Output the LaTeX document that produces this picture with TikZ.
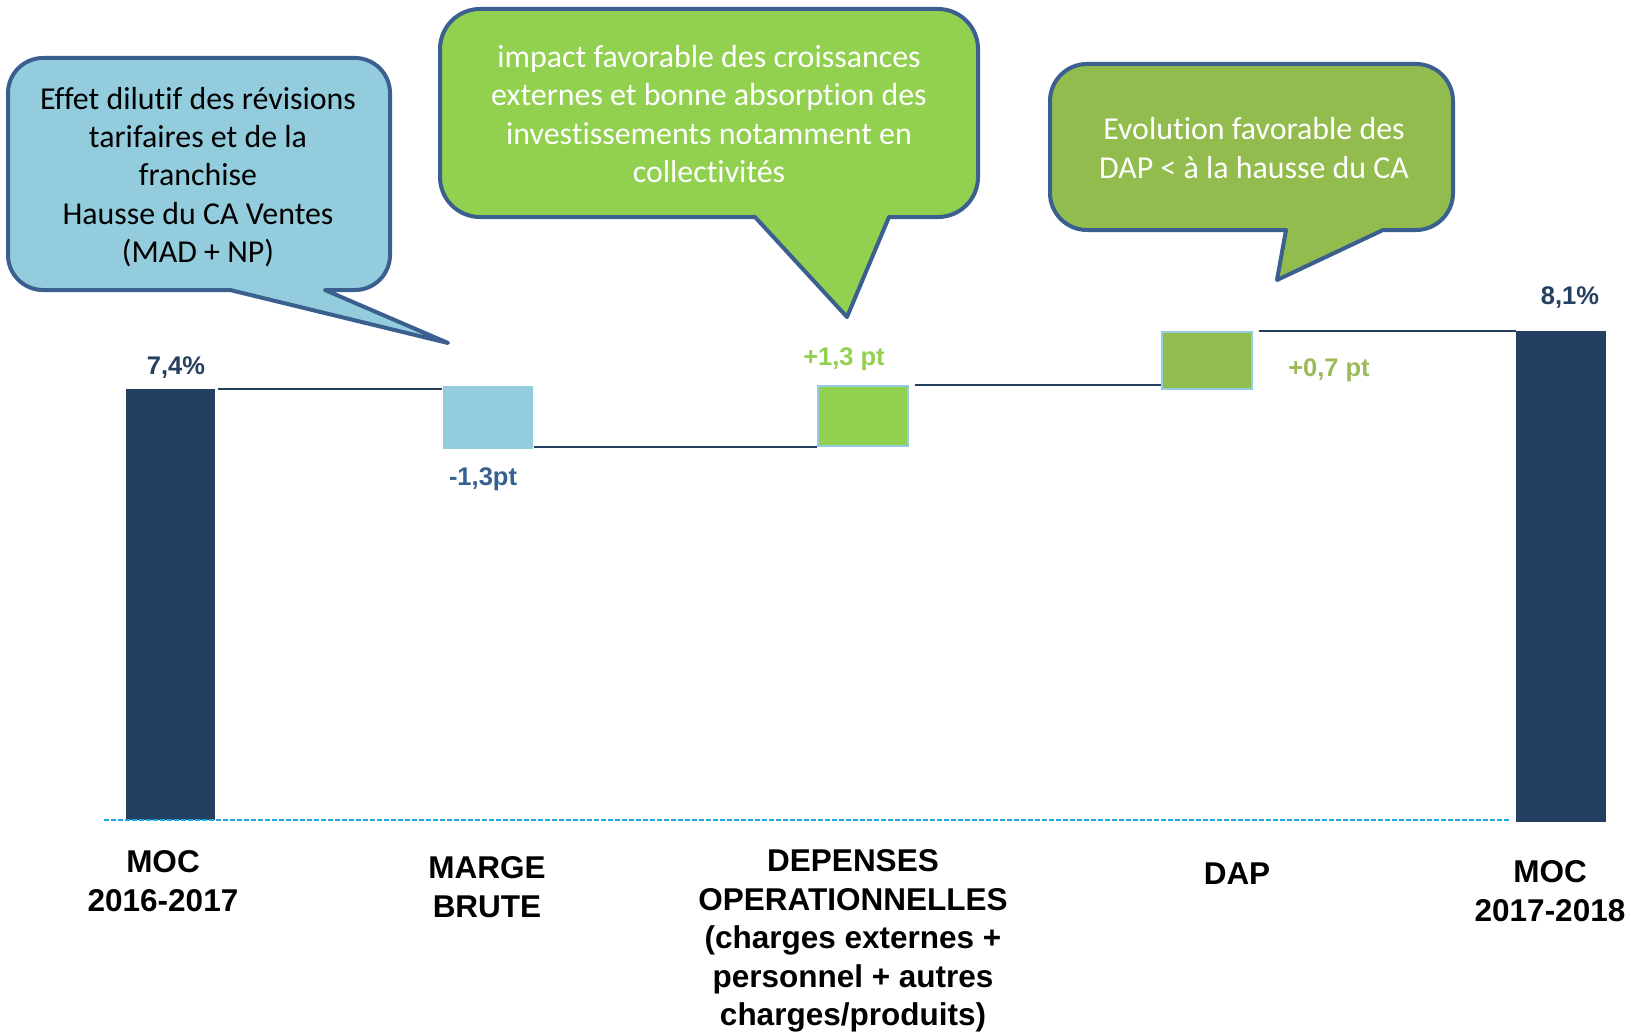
\documentclass[tikz,border=0pt]{standalone}
\usepackage{fontspec}
\setmainfont{Liberation Sans}
\newfontfamily\calfont[Ligatures=NoCommon]{Carlito}
\definecolor{navy}{HTML}{243F60}
\definecolor{midblue}{HTML}{376092}
\definecolor{bordblue}{HTML}{3B5F8E}
\definecolor{skyfill}{HTML}{93CDDD}
\definecolor{limefill}{HTML}{92D050}
\definecolor{olivefill}{HTML}{93BC4E}
\definecolor{valgreen}{HTML}{9BBB59}
\definecolor{dashblue}{HTML}{1EA7E1}
\tikzset{
  barbox/.style={draw=none, inner sep=0pt, anchor=north west},
  navybar/.style={barbox, fill=navy, minimum width=89pt},
  deltabox/.style={barbox, minimum width=90pt, draw=skyfill, line width=1.5pt},
  conn/.style={draw=navy, line width=2pt},
  callout/.style={draw=bordblue, line width=4pt, line join=round},
  calltext/.style={font=\calfont\fontsize{31.9}{38.4}\selectfont, align=center, inner sep=0pt},
  axislab/.style={font=\bfseries\fontsize{31.5}{38.5}\selectfont, align=center, inner sep=0pt},
  vallab/.style={font=\bfseries\fontsize{25.5}{30}\selectfont, inner sep=0pt, anchor=base}
}
\begin{document}
\begin{tikzpicture}[x=1pt,y=-1pt]
\useasboundingbox[fill=white] (0,0) rectangle (1631,1033);

% callout shapes
\path[callout, fill=skyfill] (230,290) -- (43,290) .. controls (23.7,290) and (8,274.3) .. (8,255)
  -- (8,93) .. controls (8,73.7) and (23.7,58) .. (43,58)
  -- (355,58) .. controls (374.3,58) and (390,73.7) .. (390,93)
  -- (390,255) .. controls (390,274.3) and (374.3,290) .. (355,290)
  -- (325,290) -- (448,343) -- cycle;
\path[callout, fill=limefill] (755,217) -- (480,217) .. controls (457.9,217) and (440,199.1) .. (440,177)
  -- (440,49) .. controls (440,26.9) and (457.9,9) .. (480,9)
  -- (938,9) .. controls (960.1,9) and (978,26.9) .. (978,49)
  -- (978,177) .. controls (978,199.1) and (960.1,217) .. (938,217)
  -- (889,217) -- (847,317) -- cycle;
\path[callout, fill=olivefill] (1286,230) -- (1087,230) .. controls (1066.6,230) and (1050,213.4) .. (1050,193)
  -- (1050,101) .. controls (1050,80.6) and (1066.6,64) .. (1087,64)
  -- (1416,64) .. controls (1436.4,64) and (1453,80.6) .. (1453,101)
  -- (1453,193) .. controls (1453,213.4) and (1436.4,230) .. (1416,230)
  -- (1383,230) -- (1277,280) -- cycle;

\node[calltext] (t1) at (198,177) {Effet dilutif des révisions\\tarifaires et de la\\franchise\\Hausse du CA Ventes\\(MAD + NP)};
\node[calltext, text=white] (t2) at (709,114) {impact favorable des croissances\\externes et bonne absorption des\\investissements notamment en\\collectivités};
\node[calltext, text=white] (t3) at (1254,148) {Evolution favorable des\\DAP < à la hausse du CA};

% bars
\node[navybar, minimum height=431pt] (b1) at (126,389) {};
\node[deltabox, draw=none, fill=skyfill, minimum height=63pt] (b2) at (442,385) {};
\node[deltabox, fill=limefill, minimum height=60pt] (b3) at (817,385) {};
\node[deltabox, fill=olivefill, minimum height=57pt] (b4) at (1161,331) {};
\node[navybar, minimum height=491pt, minimum width=90pt] (b5) at (1516,331) {};

% connectors
\draw[conn] ([xshift=3pt]b1.north east) -- (b1.north east -| b2.west);
\draw[conn] (b3.south west -| b2.east) -- (b3.south west);
\draw[conn] ([xshift=6pt]b3.north east) -- (b3.north east -| b4.west);
\draw[conn] ([xshift=6pt]b4.north east) -- (b4.north east -| b5.west);

\coordinate (base0) at (104,820);
\draw[dashblue, line width=1.6pt, dash pattern=on 5pt off 2pt] (base0) -- ([xshift=-7pt]base0 -| b5.west);

% value labels
\node[vallab, text=navy] (v1) at (176,374) {7,4\%};
\node[vallab, text=midblue] (v2) at (483,485) {-1,3pt};
\node[vallab, text=limefill] (v3) at (844,365) {+1,3 pt};
\node[vallab, text=valgreen] (v4) at (1329,376.5) {+0,7 pt};
\node[vallab, text=navy] (v5) at (1570,304) {8,1\%};

% axis labels
\node[axislab] (l1) at (163,881) {MOC\\2016-2017};
\node[axislab] (l2) at (487,887) {MARGE\\BRUTE};
\node[axislab] (l3) at (853,941) {DEPENSES\\OPERATIONNELLES\\(charges externes +\\personnel + autres\\charges/produits)};
\node[axislab] (l4) at (1237,874) {DAP};
\node[axislab] (l5) at (1550,891) {MOC\\2017-2018};
\end{tikzpicture}
\end{document}
